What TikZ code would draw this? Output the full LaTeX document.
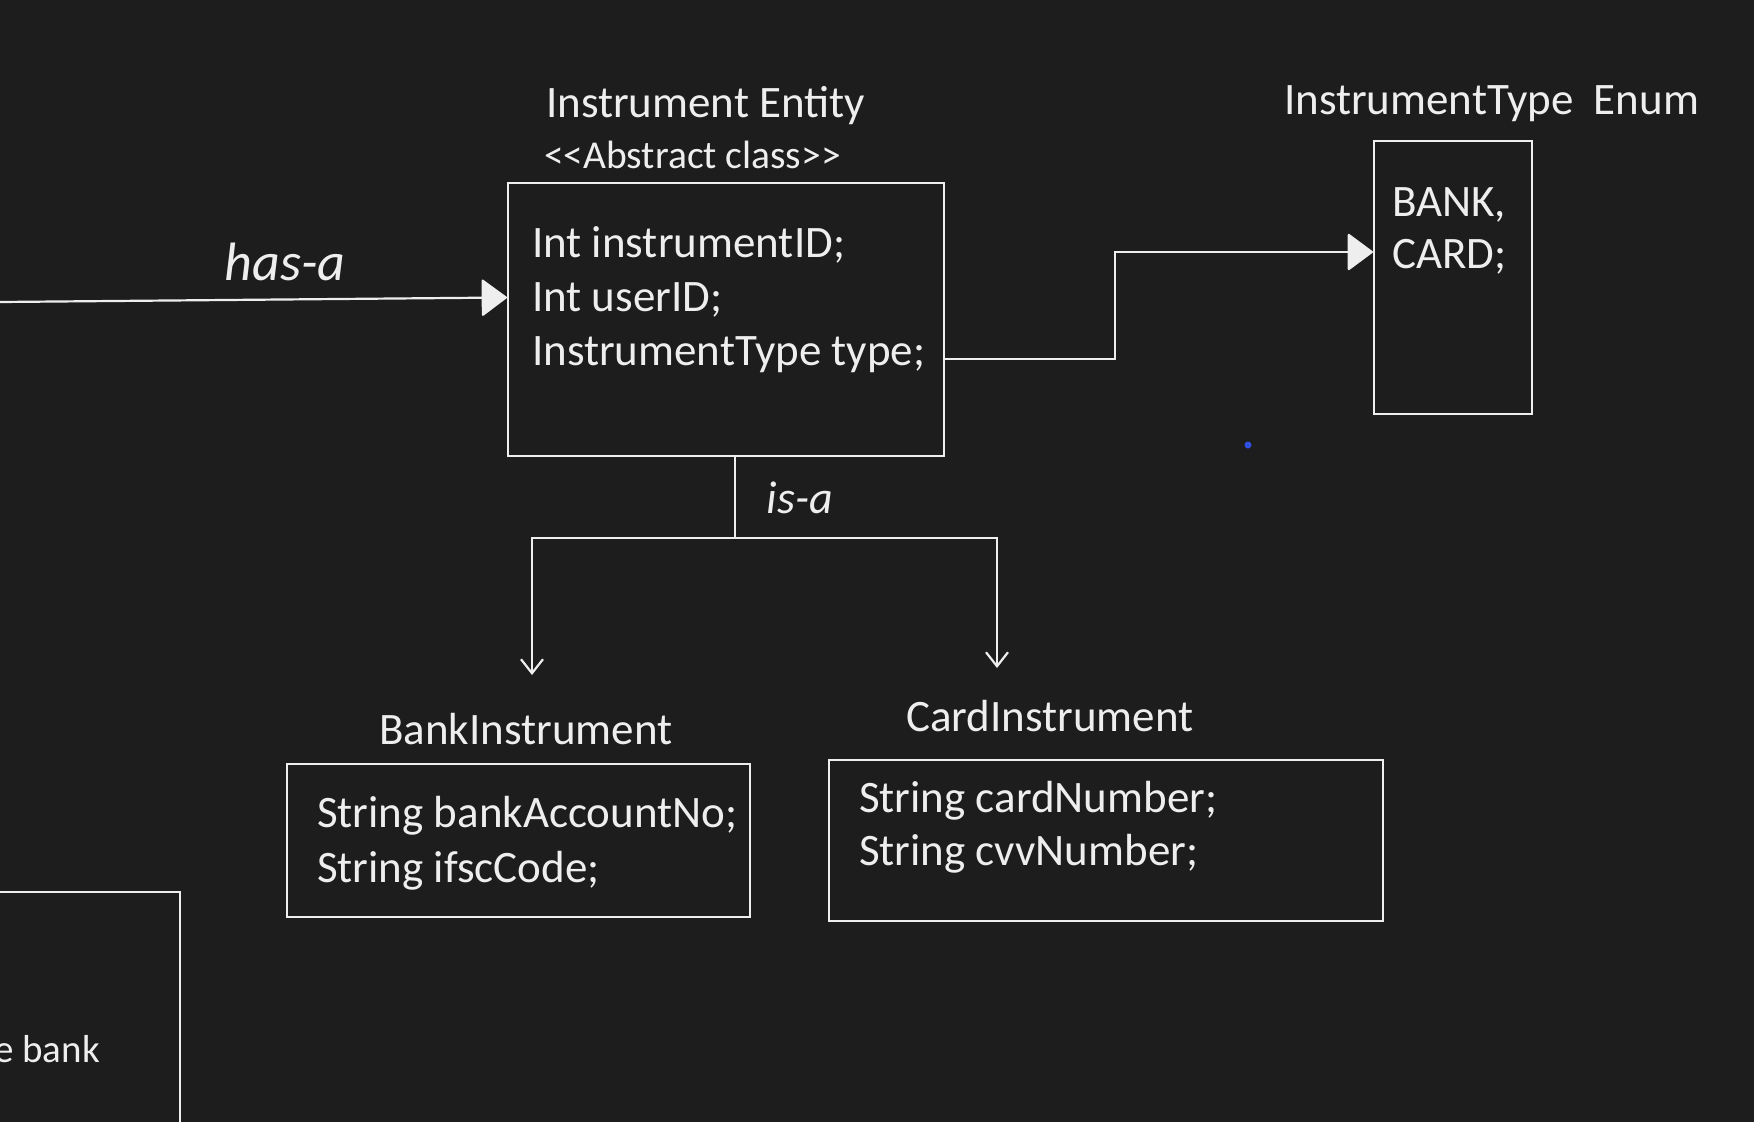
\documentclass[tikz,border=0pt]{standalone}
\usepackage{fontspec}
\setmainfont{Carlito}
\usetikzlibrary{arrows.meta, positioning, calc}
\definecolor{BoardBg}{HTML}{1D1D1D}
\definecolor{ChalkWhite}{HTML}{EEEEEE}
\definecolor{PenBlue}{HTML}{3050E0}
\tikzset{
    classbox/.style={
        draw=ChalkWhite,
        line width=2.2pt,
        inner sep=0pt
    },
    fieldtext/.style={
        text=ChalkWhite,
        font=\fontsize{45}{54}\selectfont,
        align=left,
        inner sep=0pt,
        anchor=base west
    },
    titletext/.style={
        text=ChalkWhite,
        font=\fontsize{45}{54}\selectfont,
        inner sep=0pt,
        anchor=base west
    },
    handnote/.style={
        text=ChalkWhite,
        font=\fontsize{54}{54}\selectfont\itshape,
        inner sep=0pt
    },
    link/.style={
        draw=ChalkWhite,
        line width=2.2pt
    },
    hasarrow/.style={
        link,
        -{Triangle[length=26pt, width=38pt, round]}
    },
    isarrow/.style={
        link,
        -{Straight Barb[length=14pt, width=22pt]}
    }
}

\begin{document}
\begin{tikzpicture}[x=1pt, y=-1pt]
        % Board
        \clip (0,0) rectangle (1754,1122);
        \fill[BoardBg] (0,0) rectangle (1754,1122);

        % Abstract class
        \node[classbox, minimum width=436pt, minimum height=273pt] (inst) at (726,319.5) {};
        \node[titletext] (insttitle) at ([xshift=39pt, yshift=64pt]inst.north west) {Instrument Entity};
        \node[titletext, font=\fontsize{39.5}{44}\selectfont] (instkind) at ([xshift=37pt, yshift=13pt]inst.north west) {<\kern0pt<Abstract class>\kern0pt>};
        \node[fieldtext] (instfields) at ([xshift=25pt, yshift=-184pt]inst.north west) {Int instrumentID;\\Int userID;\\InstrumentType type;};

        % Enum
        \node[classbox, minimum width=158pt, minimum height=273pt] (enum) at (1453,277.5) {};
        \node[titletext] (enumtitle) at ([xshift=-89pt, yshift=25pt]enum.north west) {InstrumentType\ \ Enum};
        \node[fieldtext, font=\fontsize{45}{52}\selectfont] (enumfields) at ([xshift=19pt, yshift=-129pt]enum.north west) {BANK,\\CARD;};

        % Subclasses
        \node[classbox, minimum width=463pt, minimum height=153pt] (bank) at (518.5,840.5) {};
        \node[titletext] (banktitle) at ([xshift=93pt, yshift=18pt]bank.north west) {BankInstrument};
        \node[fieldtext, font=\fontsize{45}{55}\selectfont] (bankfields) at ([xshift=31pt, yshift=-120pt]bank.north west) {String bankAccountNo;\\String ifscCode;};

        \node[classbox, minimum width=554pt, minimum height=161pt] (card) at (1106,840.5) {};
        \node[titletext] (cardtitle) at ([xshift=78pt, yshift=27pt]card.north west) {CardInstrument};
        \node[fieldtext, font=\fontsize{45}{53}\selectfont] (cardfields) at ([xshift=31pt, yshift=-107pt]card.north west) {String cardNumber;\\String cvvNumber;};

        % Cut-off box at the bottom left
        \node[classbox, minimum width=240pt, minimum height=260pt] (user) at (60,1022) {};
        \node[titletext, font=\fontsize{39}{44}\selectfont] (usertext) at (-6,1062) {e bank};

        % has-a
        \coordinate (hasfrom) at (0,302);
        \draw[hasarrow] (hasfrom) -- ([yshift=22pt]inst.west);
        \node[handnote] (haslabel) at (285,262) {has-a};

        % type -> enum
        \draw[hasarrow] ([yshift=-39.5pt]inst.east) -- ++(170,0) |- ([yshift=25.5pt]enum.west);

        % is-a
        \coordinate (isatop) at ([xshift=9pt]inst.south);
        \coordinate (isamid) at (735,538);
        \coordinate (bankin) at (532,675);
        \coordinate (cardin) at (997,668);
        \draw[link] (isatop) -- (isamid);
        \draw[isarrow] (isamid) -| (bankin);
        \draw[isarrow] (isamid) -| (cardin);
        \node[handnote, font=\fontsize{46}{46}\selectfont\itshape] (isalabel) at (800,498) {is-a};

        % stray pen dot
        \fill[PenBlue] (1248,445) circle (3.5);
    \end{tikzpicture}
\end{document}
